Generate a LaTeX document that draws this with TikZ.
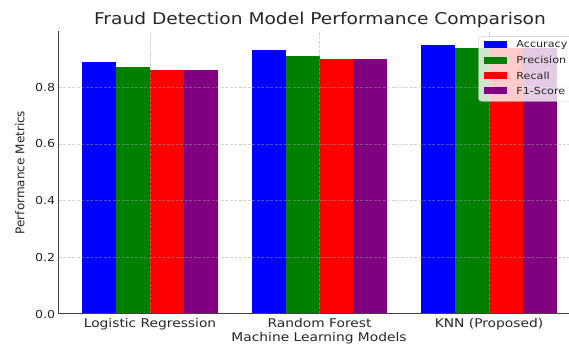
\documentclass[tikz,border=0pt]{standalone}
\usepackage{fontspec}
\setmainfont{DejaVu Sans}
\usetikzlibrary{positioning}

\definecolor{textgray}{HTML}{262626}
\definecolor{spinegray}{HTML}{404040}
\definecolor{gridgray}{HTML}{A0A0A0}
\definecolor{bargreen}{HTML}{008000}
\definecolor{barpurple}{HTML}{800080}

\begin{document}
\begin{tikzpicture}[x=1pt,y=1pt,
		txt/.style={text=textgray, inner sep=0pt, xscale=1.15},
		titletxt/.style={txt, font=\fontsize{16.2}{19}\selectfont},
		labeltxt/.style={txt, font=\fontsize{12}{14}\selectfont},
		yticktxt/.style={txt, font=\fontsize{11}{13}\selectfont, anchor=east},
		xticktxt/.style={txt, font=\fontsize{12}{14}\selectfont, anchor=north},
		legtxt/.style={txt, font=\fontsize{9.7}{11}\selectfont, anchor=west},
		legpatch/.style={inner sep=0pt, minimum width=23pt, minimum height=7pt},
		gridline/.style={draw=gridgray, draw opacity=0.45, line width=0.7pt, dash pattern=on 3pt off 1.5pt},
		spine/.style={draw=spinegray, line width=1pt}
	]
	\useasboundingbox (0,0) rectangle (569,347);
	
	% data area: one unit per model on x, metric value on y
	\begin{scope}[x=169.5pt, y=283.5pt, shift={(150pt,33pt)}]
		% Logistic Regression
		\fill[blue] (-0.4,0) rectangle (-0.2,0.89);
		\fill[bargreen] (-0.2,0) rectangle (0,0.87);
		\fill[red] (0,0) rectangle (0.2,0.86);
		\fill[barpurple] (0.2,0) rectangle (0.4,0.86);
		
		% Random Forest
		\fill[blue] (0.6,0) rectangle (0.8,0.93);
		\fill[bargreen] (0.8,0) rectangle (1,0.91);
		\fill[red] (1,0) rectangle (1.2,0.90);
		\fill[barpurple] (1.2,0) rectangle (1.4,0.90);
		
		% KNN
		\fill[blue] (1.6,0) rectangle (1.8,0.95);
		\fill[bargreen] (1.8,0) rectangle (2,0.94);
		\fill[red] (2,0) rectangle (2.2,0.94);
		\fill[barpurple] (2.2,0) rectangle (2.4,0.94);
		
		% grid on top of the bars
		\draw[gridline] (-0.537,0.2) -- (2.6,0.2);
		\draw[gridline] (-0.537,0.4) -- (2.6,0.4);
		\draw[gridline] (-0.537,0.6) -- (2.6,0.6);
		\draw[gridline] (-0.537,0.8) -- (2.6,0.8);
		\draw[gridline] (0,0) -- (0,0.9975);
		\draw[gridline] (1,0) -- (1,0.9975);
		\draw[gridline] (2,0) -- (2,0.9975);
		
		% spines
		\coordinate (origin) at (-0.537,0);
		\coordinate (ytop) at (-0.537,0.9975);
		\coordinate (xend) at (2.6,0);
		\draw[spine] (ytop) -- (origin) -- (xend);
		
		% tick labels
		\node[yticktxt] (y00) at ([xshift=-3.5pt]-0.537,0) {0.0};
		\node[yticktxt] (y02) at ([xshift=-3.5pt]-0.537,0.2) {0.2};
		\node[yticktxt] (y04) at ([xshift=-3.5pt]-0.537,0.4) {0.4};
		\node[yticktxt] (y06) at ([xshift=-3.5pt]-0.537,0.6) {0.6};
		\node[yticktxt] (y08) at ([xshift=-3.5pt]-0.537,0.8) {0.8};
		
		\node[xticktxt] (xlr) at ([yshift=-4.3pt]0,0) {Logistic Regression};
		\node[xticktxt] (xrf) at ([yshift=-4.3pt]1,0) {Random Forest};
		\node[xticktxt] (xknn) at ([yshift=-4.3pt]2,0) {KNN (Proposed)};
	\end{scope}
	
	% axis labels and title
	\node[labeltxt, anchor=north] (xlab) at (319,14.5) {Machine Learning Models};
	\node[text=textgray, inner sep=0pt, font=\fontsize{12}{14}\selectfont, rotate=90] (ylab) at (20,174.5) {Performance Metrics};
	\node[titletxt, anchor=base] (title) at (320,322) {Fraud Detection Model Performance Comparison};
	
	% legend
	\draw[draw=gridgray!60, fill=white, fill opacity=0.8, rounded corners=3pt] (478.5,245.7) rectangle (590,310.3);
	\node[legpatch, fill=blue] (pacc) at (495,302) {};
	\node[legpatch, fill=bargreen] (pprec) at (495,286.7) {};
	\node[legpatch, fill=red] (prec) at (495,271.3) {};
	\node[legpatch, fill=barpurple] (pf1) at (495,256) {};
	\node[legtxt, right=9.5pt of pacc] (lacc) {Accuracy};
	\node[legtxt, right=9.5pt of pprec] (lprec) {Precision};
	\node[legtxt, right=9.5pt of prec] (lrec) {Recall};
	\node[legtxt, right=9.5pt of pf1] (lf1) {F1-Score};
\end{tikzpicture}
\end{document}
